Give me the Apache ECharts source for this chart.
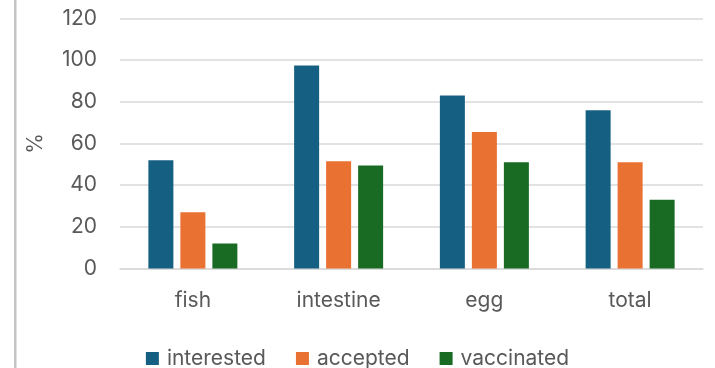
<!DOCTYPE html>
<html>
<head>
<meta charset="utf-8">
<script src="https://cdn.jsdelivr.net/npm/echarts@6/dist/echarts.min.js"></script>
<style>
  html, body { margin: 0; padding: 0; background: #fff; }
  #chart { width: 715px; height: 368px; }
</style>
</head>
<body>
<div id="chart"></div>
<script>
// Survey shares per product category
const categories = ['fish', 'intestine', 'egg', 'total'];
const interested = [52, 97.5, 83, 76];
const accepted = [27, 51.5, 65.5, 51];
const vaccinated = [12, 49.5, 51, 33];
const yTicks = [0, 20, 40, 60, 80, 100, 120];

const textColor = '#595959';
const fontFamily = 'Inter, "Noto Sans", sans-serif';
const fontSize = 21;

const chart = echarts.init(document.getElementById('chart'), null, { renderer: 'canvas' });

function barSeries(name, data, color) {
  return {
    name: name,
    type: 'bar',
    data: data,
    barWidth: 25,
    barGap: '28%',
    itemStyle: { color: color },
    emphasis: { disabled: true }
  };
}

chart.setOption({
  animation: false,
  textStyle: { fontFamily: fontFamily },
  grid: { left: 120, right: 12, top: 18.5, bottom: 99.5, containLabel: false },
  graphic: [{
    type: 'rect',
    shape: { x: 14, y: 0, width: 2.5, height: 368 },
    style: { fill: '#c4c4c4' },
    silent: true
  }],
  legend: {
    top: 343,
    left: 'center',
    itemWidth: 13,
    itemHeight: 13,
    itemGap: 30,
    icon: 'rect',
    textStyle: { color: textColor, fontSize: fontSize, fontFamily: fontFamily, padding: [0, 0, 0, 3] },
    data: ['interested', 'accepted', 'vaccinated']
  },
  xAxis: {
    type: 'category',
    data: categories,
    axisLine: { show: true, lineStyle: { color: '#d9d9d9', width: 1.5 } },
    axisTick: { show: false },
    axisLabel: { color: textColor, fontSize: fontSize, margin: 22 }
  },
  yAxis: {
    type: 'value',
    min: yTicks[0],
    max: yTicks[yTicks.length - 1],
    interval: 20,
    name: '%',
    nameLocation: 'middle',
    nameGap: 74,
    nameRotate: 90,
    nameTextStyle: { color: textColor, fontSize: fontSize },
    axisLine: { show: false },
    axisTick: { show: false },
    axisLabel: { color: textColor, fontSize: fontSize, margin: 23 },
    splitLine: { lineStyle: { color: '#d9d9d9', width: 1.5 } }
  },
  series: [
    barSeries('interested', interested, '#156082'),
    barSeries('accepted', accepted, '#E97132'),
    barSeries('vaccinated', vaccinated, '#196B24')
  ]
});
</script>
</body>
</html>
